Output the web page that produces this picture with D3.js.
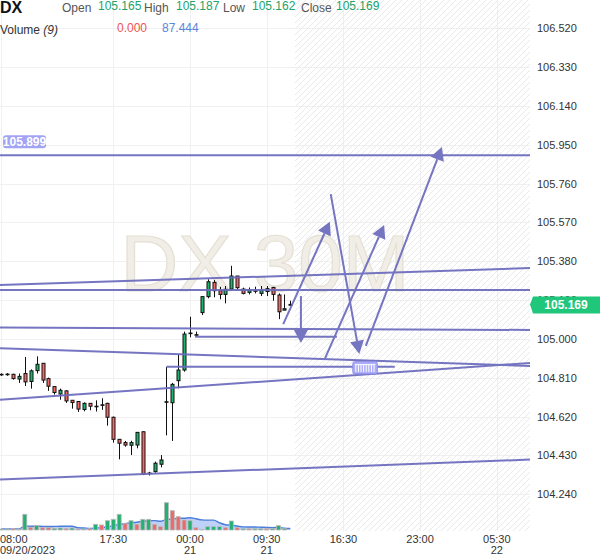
<!DOCTYPE html>
<html><head><meta charset="utf-8">
<script src="https://cdn.jsdelivr.net/npm/d3@7/dist/d3.min.js"></script>
<style>body{margin:0;background:#fff}svg{display:block;font-family:"Liberation Sans",Arial,sans-serif}</style>
</head><body><svg id="c" width="600" height="558"></svg>
<script>
// ---- data ----
const symbol = "DX";
const watermark = "DX 30M";
const openV  = [104.827,104.826,104.827,104.804,104.831,104.792,104.845,104.881,104.806,104.767,104.731,104.746,104.700,104.694,104.655,104.685,104.671,104.678,104.685,104.617,104.509,104.493,104.480,104.481,104.546,104.342,104.351,104.387,104.693,104.688,104.796,104.848,105.027,105.021,105.129,105.207,105.277,105.236,105.218,105.244,105.308,105.244,105.228,105.236,105.223,105.232,105.252,105.215,105.141,105.165];
const highV  = [104.832,104.833,104.830,104.831,104.912,104.851,104.915,104.881,104.811,104.767,104.757,104.749,104.700,104.694,104.690,104.685,104.700,104.710,104.688,104.620,104.510,104.501,104.502,104.545,104.548,104.350,104.400,104.432,104.863,104.785,104.922,105.036,105.109,105.036,105.210,105.292,105.288,105.255,105.259,105.358,105.308,105.251,105.252,105.256,105.259,105.259,105.255,105.223,105.218,105.187];
const lowV   = [104.820,104.820,104.801,104.785,104.770,104.757,104.831,104.785,104.746,104.728,104.703,104.687,104.659,104.643,104.646,104.651,104.645,104.653,104.576,104.493,104.411,104.473,104.432,104.465,104.334,104.332,104.346,104.372,104.528,104.501,104.759,104.840,105.008,105.011,105.117,105.199,105.204,105.194,105.174,105.239,105.243,105.218,105.218,105.223,105.210,105.210,105.187,105.097,105.140,105.162];
const closeV = [104.825,104.828,104.806,104.817,104.790,104.844,104.876,104.799,104.769,104.738,104.749,104.697,104.689,104.657,104.685,104.671,104.669,104.676,104.617,104.509,104.490,104.481,104.493,104.543,104.338,104.344,104.392,104.408,104.691,104.778,104.848,105.024,105.029,105.019,105.207,105.280,105.236,105.218,105.243,105.308,105.251,105.223,105.239,105.234,105.239,105.246,105.218,105.133,105.148,105.169];
const volumeV = [60,60,78,60,942,162,258,138,138,102,120,78,120,60,60,78,342,300,558,642,942,402,558,342,642,642,342,198,1638,1158,798,600,558,138,42,198,198,198,138,540,138,75,75,75,75,78,78,258,78,0];
const volumeUp = "ggrggrgrrggrgrgrgrgggrgrggrrgrrrgrggggrgrgrggrgggg";
const maPeriod = 9;
const priceTicks = [104.240,104.430,104.620,104.810,105.000,105.190,105.380,105.570,105.760,105.950,106.140,106.330,106.520];
const timeTickIdx = [0,19,32,45,58,71,84];
const timeTickTop = ["08:00","17:30","00:00","09:30","16:30","23:00","05:30"];
const timeTickBottom = ["09/20/2023","","21","21","","","22"];
const lastPrice = 105.169;
const levelPrice = 105.899;
// user drawings: [index0, price0, index1, price1]
const trendSegs = [
  [-0.2,105.899,89.7,105.899],
  [-0.2,105.264,89.7,105.347],
  [-0.2,105.240,89.7,105.240],
  [-0.2,105.056,89.7,105.044],
  [32.85,105.011,56.9,105.011],
  [-0.2,104.954,89.7,104.868],
  [-0.2,104.702,89.7,104.883],
  [28,104.864,66.7,104.864],
  [-0.2,104.313,89.7,104.410]
];
const arrowSegs = [
  [50.8,105.210,50.8,104.980],
  [47.8,105.073,55.7,105.574],
  [55.85,105.709,60.7,104.927],
  [54.9,104.906,64.9,105.558],
  [61.8,104.966,74.7,105.939]
];
const widgetBox = [59.6,104.889,63.75,104.829];
const legendO = "105.165", legendH = "105.187", legendL = "105.162", legendC = "105.169";
const legendVol = "0.000", legendMA = "87.444";

// ---- chart ----
const W = 530, H = 531;
const svg = d3.select("#c");
const x = d3.scaleLinear().domain([0, 89]).range([1.2, 1.2 + 89*5.9]);
const y = d3.scaleLinear().domain([104.24, 106.52]).range([494.3, 28.3]);
const yv = d3.scaleLinear().domain([0, 1800]).range([530, 500]);

const defs = svg.append("defs");
defs.append("clipPath").attr("id","plot").append("rect").attr("x",0).attr("y",0).attr("width",W).attr("height",H);
const pat = defs.append("pattern").attr("id","hatch").attr("patternUnits","userSpaceOnUse").attr("width",6).attr("height",6);
pat.append("path").attr("d","M-1,1 l2,-2 M0,6 l6,-6 M5,7 l2,-2").attr("stroke","#e9e9e9").attr("stroke-width",1);

const plot = svg.append("g").attr("clip-path","url(#plot)");
// grid
plot.selectAll(".hg").data(priceTicks).join("line")
  .attr("x1",0).attr("x2",W).attr("y1",d=>Math.round(y(d))+0.5).attr("y2",d=>Math.round(y(d))+0.5)
  .attr("stroke","#f0f0f0");
plot.selectAll(".vg").data(timeTickIdx).join("line")
  .attr("y1",0).attr("y2",H).attr("x1",d=>Math.round(x(d))+0.5).attr("x2",d=>Math.round(x(d))+0.5)
  .attr("stroke","#f0f0f0");
// hatch future area
const lastIdx = closeV.length - 1;
plot.append("rect").attr("x",x(lastIdx+0.8)).attr("y",0).attr("width",W - x(lastIdx+0.8)).attr("height",H).attr("fill","url(#hatch)");
// watermark
plot.append("text").attr("x",265).attr("y",291).attr("text-anchor","middle")
  .attr("font-size",80).attr("fill","#f1eee7").attr("stroke","#e6e0d4").attr("stroke-width",1.2)
  .text(watermark);

// volume MA area
const ma = volumeV.map((v,i)=>{const s=volumeV.slice(Math.max(0,i-maPeriod+1),i+1);return d3.mean(s);});
const area = d3.area().x((d,i)=>x(i)).y0(yv(0)).y1(d=>yv(d)).curve(d3.curveMonotoneX);
plot.append("path").datum(ma).attr("d",area).attr("fill","#b4c9f6").attr("fill-opacity",0.85);
plot.append("path").datum(ma).attr("d",d3.line().x((d,i)=>x(i)).y(d=>yv(d)).curve(d3.curveMonotoneX))
  .attr("fill","none").attr("stroke","#4a7ddc").attr("stroke-width",1.4);
// volume bars
plot.selectAll(".vb").data(volumeV).join("rect")
  .attr("x",(d,i)=>x(i)-2).attr("width",4)
  .attr("y",d=>yv(d)).attr("height",d=>Math.max(0,yv(0)-yv(d)))
  .attr("fill",(d,i)=>volumeUp[i]==="g"?"#23b070":"#ec6a6a")
  .attr("stroke","#b9b9b9").attr("stroke-width",0.8);

// candles
const candles = plot.append("g");
closeV.forEach((c,i)=>{
  const o=openV[i], h=highV[i], l=lowV[i];
  const cx = Math.round(x(i))+0.5;
  candles.append("line").attr("x1",cx).attr("x2",cx).attr("y1",y(h)).attr("y2",y(l)).attr("stroke","#111").attr("stroke-width",1);
  const top = y(Math.max(o,c)), bot = y(Math.min(o,c));
  candles.append("rect").attr("x",cx-1.5).attr("width",3).attr("y",top).attr("height",Math.max(0.6,bot-top))
    .attr("fill", c>=o ? "#1cb56c" : "#f06a68").attr("stroke","#111").attr("stroke-width",1);
});

// drawings
const dcol = "#6a6abd";
const dr = plot.append("g").attr("opacity",0.92);
dr.selectAll(".ts").data(trendSegs).join("line")
  .attr("x1",d=>x(d[0])).attr("y1",d=>y(d[1])).attr("x2",d=>x(d[2])).attr("y2",d=>y(d[3]))
  .attr("stroke",dcol).attr("stroke-width",2);
arrowSegs.forEach(d=>{
  const x0=x(d[0]),y0=y(d[1]),x1=x(d[2]),y1=y(d[3]);
  const dx=x1-x0, dy=y1-y0, len=Math.hypot(dx,dy), ux=dx/len, uy=dy/len;
  const hl=13, hw=7;
  const bx=x1-ux*hl, by=y1-uy*hl;
  dr.append("line").attr("x1",x0).attr("y1",y0).attr("x2",bx).attr("y2",by).attr("stroke",dcol).attr("stroke-width",2);
  dr.append("path").attr("d",`M${x1},${y1}L${bx-uy*hw},${by+ux*hw}L${bx+uy*hw},${by-ux*hw}Z`).attr("fill",dcol);
});
// small widget
const wx0=x(widgetBox[0]), wx1=x(widgetBox[2]), wy0=y(widgetBox[1]), wy1=y(widgetBox[3]);
dr.append("rect").attr("x",wx0).attr("y",wy0).attr("width",wx1-wx0).attr("height",wy1-wy0).attr("rx",2)
  .attr("fill","#a8a8fb").attr("stroke","#8383e6").attr("stroke-width",1);
dr.selectAll(".ws").data(d3.range(wx0+3, wx1-2, 2.6)).join("line")
  .attr("x1",d=>d).attr("x2",d=>d).attr("y1",wy0+3).attr("y2",wy1-2).attr("stroke","#fff").attr("stroke-width",1);
dr.append("line").attr("x1",wx0+2).attr("x2",wx1-2).attr("y1",wy0+3).attr("y2",wy0+3).attr("stroke","#fff").attr("stroke-width",1);

// level label on left
const ly = y(levelPrice);
svg.append("rect").attr("x",3).attr("y",ly-20).attr("width",43).attr("height",13).attr("rx",3).attr("fill","#a3a3f6");
svg.append("text").attr("x",24.5).attr("y",ly-9.5).attr("text-anchor","middle").attr("font-size",12).attr("font-weight","bold").attr("fill","#fff").text(d3.format(".3f")(levelPrice));

// right price axis
svg.selectAll(".pt").data(priceTicks).join("text")
  .attr("x",537).attr("y",d=>y(d)+4).attr("font-size",11).attr("fill","#333")
  .text(d=>d3.format(".3f")(d));
const lpY = y(lastPrice);
svg.append("path").attr("d",`M530,${lpY}L533,${lpY-8}H600V${lpY+9}H533Z`).attr("fill","#20c67a");
svg.append("text").attr("x",566).attr("y",lpY+4.5).attr("text-anchor","middle").attr("font-size",12).attr("font-weight","bold").attr("fill","#fff").text(d3.format(".3f")(lastPrice));

// time axis
timeTickIdx.forEach((ti,k)=>{
  const tx = x(ti);
  const anchor = k===0 ? "start" : "middle";
  const xx = k===0 ? 0 : tx;
  svg.append("text").attr("x",xx).attr("y",543).attr("text-anchor",anchor).attr("font-size",11).attr("fill","#333").text(timeTickTop[k]);
  if (timeTickBottom[k]) svg.append("text").attr("x",xx).attr("y",554).attr("text-anchor",anchor).attr("font-size",11).attr("fill","#333").text(timeTickBottom[k]);
});

// legend
const green="#22a36a", gray="#555";
svg.append("text").attr("x",0).attr("y",13).attr("font-size",16).attr("font-weight","bold").attr("fill","#111").text(symbol);
const leg = [["Open",62,gray,12],[legendO,98,green,10],["High",144,gray,12],[legendH,176,green,10],["Low",223,gray,12],[legendL,252,green,10],["Close",301,gray,12],[legendC,336,green,10]];
leg.forEach(l=>svg.append("text").attr("x",l[1]).attr("y",l[3]).attr("font-size",12).attr("fill",l[2]).text(l[0]));
const vt = svg.append("text").attr("x",0).attr("y",34).attr("font-size",12).attr("fill","#333");
vt.append("tspan").text("Volume ");
vt.append("tspan").attr("font-style","italic").text("(9)");
svg.append("text").attr("x",117).attr("y",32).attr("font-size",12).attr("fill","#ee5350").text(legendVol);
svg.append("text").attr("x",162).attr("y",32).attr("font-size",12).attr("fill","#5a86dc").text(legendMA);
</script></body></html>
